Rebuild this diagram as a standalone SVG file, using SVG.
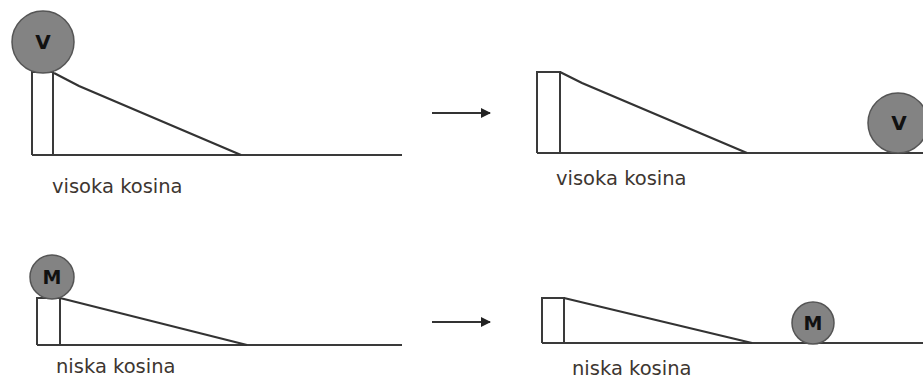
<svg xmlns="http://www.w3.org/2000/svg" width="923" height="380" viewBox="0 0 923 380">
<style>
.ln{fill:none;stroke:#3a3a3a;stroke-width:2}
.rp{fill:none;stroke:#333;stroke-width:2.2}
.ball{fill:#838383;stroke:#555;stroke-width:1.5}
.lt{font-family:"DejaVu Sans",sans-serif;font-weight:bold;fill:#111;text-anchor:middle}
.lbl{font-family:"DejaVu Sans",sans-serif;font-size:19.5px;fill:#3d3630}
.arr{stroke:#333;stroke-width:2}
</style>
<defs>
<marker id="ah" markerWidth="10" markerHeight="10" refX="9" refY="5" orient="auto" markerUnits="userSpaceOnUse">
<path d="M0,0 L10,5 L0,10 Z" fill="#222"/>
</marker>
</defs>
<rect width="923" height="380" fill="#fff"/>
<g id="scene-high-start">
<path class="ln" d="M32,155 V72 H53 V155 M32,155 H402"/>
<path class="rp" d="M54,73 L79,86 L241,155"/>
<circle class="ball" cx="43" cy="42" r="31"/>
<text class="lt" x="43" y="49" font-size="20">V</text>
<text class="lbl" x="52" y="193">visoka kosina</text>
</g>
<g id="scene-high-end">
<path class="ln" d="M537,153 V72 H560 V153 M537,153 H923"/>
<path class="rp" d="M560,72 L582,83 L747,153"/>
<circle class="ball" cx="898" cy="123" r="30"/>
<text class="lt" x="899" y="130" font-size="20">V</text>
<text class="lbl" x="556" y="185">visoka kosina</text>
</g>
<g id="scene-low-start">
<path class="ln" d="M37,345 V298 H60 V345 M37,345 H402"/>
<path class="rp" d="M60,298 L247,345"/>
<circle class="ball" cx="52" cy="277" r="22"/>
<text class="lt" x="52" y="284" font-size="19">M</text>
<text class="lbl" x="56" y="373">niska kosina</text>
</g>
<g id="scene-low-end">
<path class="ln" d="M542,343 V298 H564 V343 M542,343 H923"/>
<path class="rp" d="M564,298 L752,343"/>
<circle class="ball" cx="813" cy="323" r="21"/>
<text class="lt" x="813" y="330" font-size="19">M</text>
<text class="lbl" x="572" y="375">niska kosina</text>
</g>
<g id="connectors">
<line class="arr" x1="432" y1="113" x2="490" y2="113" marker-end="url(#ah)"/>
<line class="arr" x1="432" y1="322" x2="490" y2="322" marker-end="url(#ah)"/>
</g>
</svg>
